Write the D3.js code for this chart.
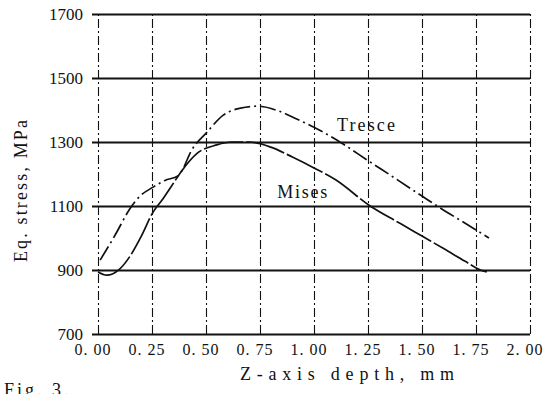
<!DOCTYPE html>
<html><head><meta charset="utf-8">
<script src="https://cdn.jsdelivr.net/npm/d3@7"></script>
<style>
html,body{margin:0;padding:0;background:#fff;}
svg{display:block;}
</style></head>
<body>
<svg id="chart" width="553" height="394"></svg>
<script>
// ---- data ----
const xTicks = [0, 0.25, 0.5, 0.75, 1.0, 1.25, 1.5, 1.75, 2.0];
const xTickLabels = ["0. 00","0. 25","0. 50","0. 75","1. 00","1. 25","1. 50","1. 75","2. 00"];
const yTicks = [700, 900, 1100, 1300, 1500, 1700];
const yTickLabels = ["700","900","1100","1300","1500","1700"];

const trescaX = [0.01, 0.08, 0.15, 0.19, 0.255, 0.31, 0.37, 0.39, 0.43, 0.505, 0.58, 0.66, 0.74, 0.84, 0.92, 1.0, 1.12, 1.25, 1.37, 1.50, 1.57, 1.70, 1.81];
const trescaY = [931, 1010, 1094, 1128, 1159, 1180, 1194, 1212, 1270, 1331, 1384, 1406, 1412, 1396, 1372, 1346, 1300, 1242, 1189, 1131, 1100, 1046, 1000];

const misesX = [0.0, 0.04, 0.10, 0.15, 0.20, 0.255, 0.30, 0.34, 0.39, 0.46, 0.55, 0.62, 0.70, 0.80, 0.90, 1.0, 1.10, 1.26, 1.40, 1.50, 1.60, 1.70, 1.77, 1.80];
const misesY = [894, 884, 903, 945, 1005, 1081, 1122, 1162, 1212, 1265, 1291, 1300, 1300, 1284, 1253, 1219, 1182, 1100, 1045, 1006, 967, 927, 900, 894];

const seriesNames = ["Tresce", "Mises"];

// ---- layout ----
const FONT = '"Liberation Serif", "DejaVu Serif", "Times New Roman", serif';
const svg = d3.select("#chart").attr("font-family", FONT);
const L = 98, R = 530, T = 14, B = 334;
const x = d3.scaleLinear().domain([0, 2]).range([L, R]);
const y = d3.scaleLinear().domain([700, 1700]).range([B, T]);
const ink = "#111";

// vertical dash-dot grid (x axis)
const xAxis = d3.axisBottom(x).tickValues(xTicks)
  .tickFormat((d, i) => xTickLabels[i])
  .tickSize(-(B - T)).tickPadding(10);
const gx = svg.append("g").attr("transform", `translate(0,${B})`).call(xAxis);
gx.select(".domain").remove();
gx.selectAll(".tick line").attr("stroke", ink).attr("stroke-width", 1.1)
  .attr("stroke-dasharray", "9,3,2,3");
gx.selectAll(".tick text").attr("font-size", 16).attr("textLength", 36)
  .attr("lengthAdjust", "spacing").attr("dx", -6).attr("fill", ink);

// horizontal solid grid (y axis)
const yAxis = d3.axisLeft(y).tickValues(yTicks)
  .tickFormat((d, i) => yTickLabels[i])
  .tickSize(-(R - L + 6)).tickPadding(9);
const gy = svg.append("g").attr("transform", `translate(${L - 6},0)`).call(yAxis);
gy.select(".domain").remove();
gy.selectAll(".tick line").attr("stroke", ink).attr("stroke-width", 1.8);
gy.selectAll(".tick text").attr("font-size", 17).attr("fill", ink);

// curves
const line = d3.line().x(d => x(d[0])).y(d => y(d[1])).curve(d3.curveMonotoneX);
const tresca = trescaX.map((v, i) => [v, trescaY[i]]);
const mises = misesX.map((v, i) => [v, misesY[i]]);

svg.append("path").datum(tresca).attr("d", line).attr("fill", "none")
  .attr("stroke", ink).attr("stroke-width", 1.7).attr("stroke-dasharray", "16,4,2,4");
svg.append("path").datum(mises).attr("d", line).attr("fill", "none")
  .attr("stroke", ink).attr("stroke-width", 1.7).attr("stroke-dasharray", "40,3");

// curve labels
svg.append("text").attr("x", x(1.106)).attr("y", y(1334))
  .attr("font-size", 18).attr("textLength", 58).attr("lengthAdjust", "spacing")
  .attr("fill", ink).text(seriesNames[0]);
svg.append("text").attr("x", x(0.83)).attr("y", y(1125))
  .attr("font-size", 18).attr("textLength", 50).attr("lengthAdjust", "spacing")
  .attr("fill", ink).text(seriesNames[1]);

// axis titles
svg.append("text").attr("x", 240).attr("y", 380)
  .attr("font-size", 18).attr("textLength", 214).attr("lengthAdjust", "spacing")
  .attr("fill", ink).text("Z-axis  depth, mm");
svg.append("text").attr("transform", "translate(27,262) rotate(-90)")
  .attr("font-size", 18).attr("textLength", 142).attr("lengthAdjust", "spacing")
  .attr("fill", ink).text("Eq. stress, MPa");

// figure caption (cut off at bottom, as in the source)
svg.append("text").attr("x", 4).attr("y", 396).attr("font-size", 18)
  .attr("letter-spacing", 3).attr("fill", ink).text("Fig. 3.");

svg.selectAll("text").style("font-family", FONT);
</script>
</body></html>
